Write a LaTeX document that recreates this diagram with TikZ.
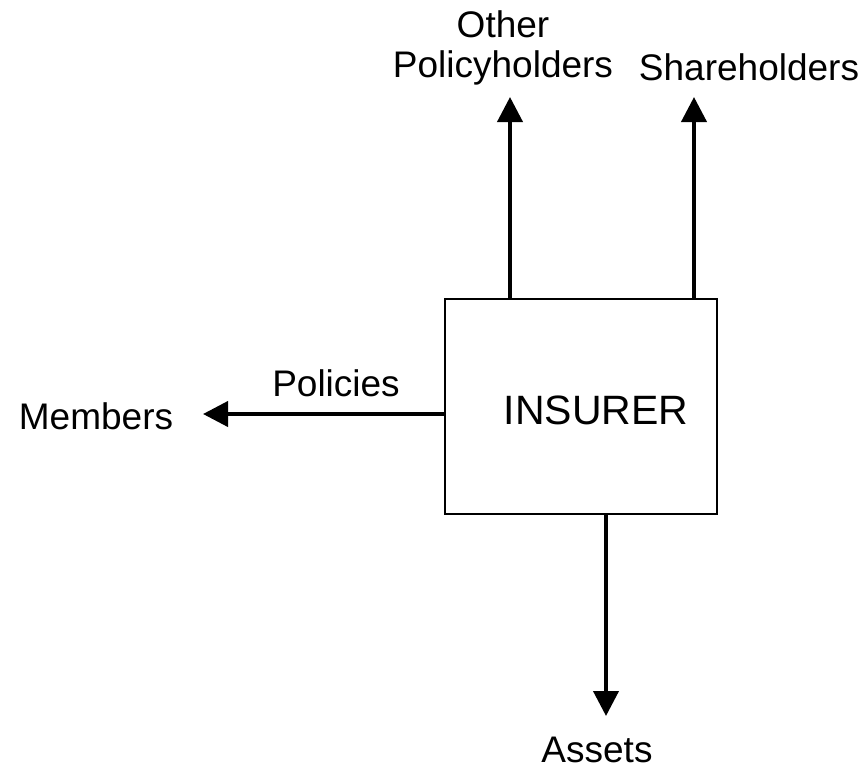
\documentclass[tikz,border=0pt]{standalone}
\usepackage{fontspec}
\setmainfont{Liberation Sans}
\usetikzlibrary{arrows.meta}
\begin{document}
\begin{tikzpicture}[x=1pt,y=-1pt,
  lbl/.style={font=\fontsize{37}{40}\selectfont, inner sep=0pt, align=center},
  arr/.style={line width=4pt, -{Triangle[length=25pt,width=25pt]}},
  boxst/.style={draw, line width=2.5pt, minimum width=272pt, minimum height=215pt, inner sep=0pt}]
\useasboundingbox (0,0) rectangle (867,772);
\node[boxst] (insurer) at (581,406.5) {};
\node[lbl, font=\fontsize{41}{44}\selectfont] (ins) at (596,410) {INSURER};
\node[lbl] (oth) at (503,48) {Other\\Policyholders};
\node[lbl] (sh) at (749,67) {Shareholders};
\node[lbl] (mem) at (96,416) {Members};
\node[lbl] (pol) at (336,383) {Policies};
\node[lbl] (ass) at (597,750) {Assets};
\coordinate (op) at (510,97);
\coordinate (shp) at (694,97);
\coordinate (mp) at (203,414);
\coordinate (ap) at (606,716);
\draw[arr] (insurer.north -| op) -- (op);
\draw[arr] (insurer.north -| shp) -- (shp);
\draw[arr] (insurer.west |- mp) -- (mp);
\draw[arr] (insurer.south -| ap) -- (ap);
\end{tikzpicture}
\end{document}
